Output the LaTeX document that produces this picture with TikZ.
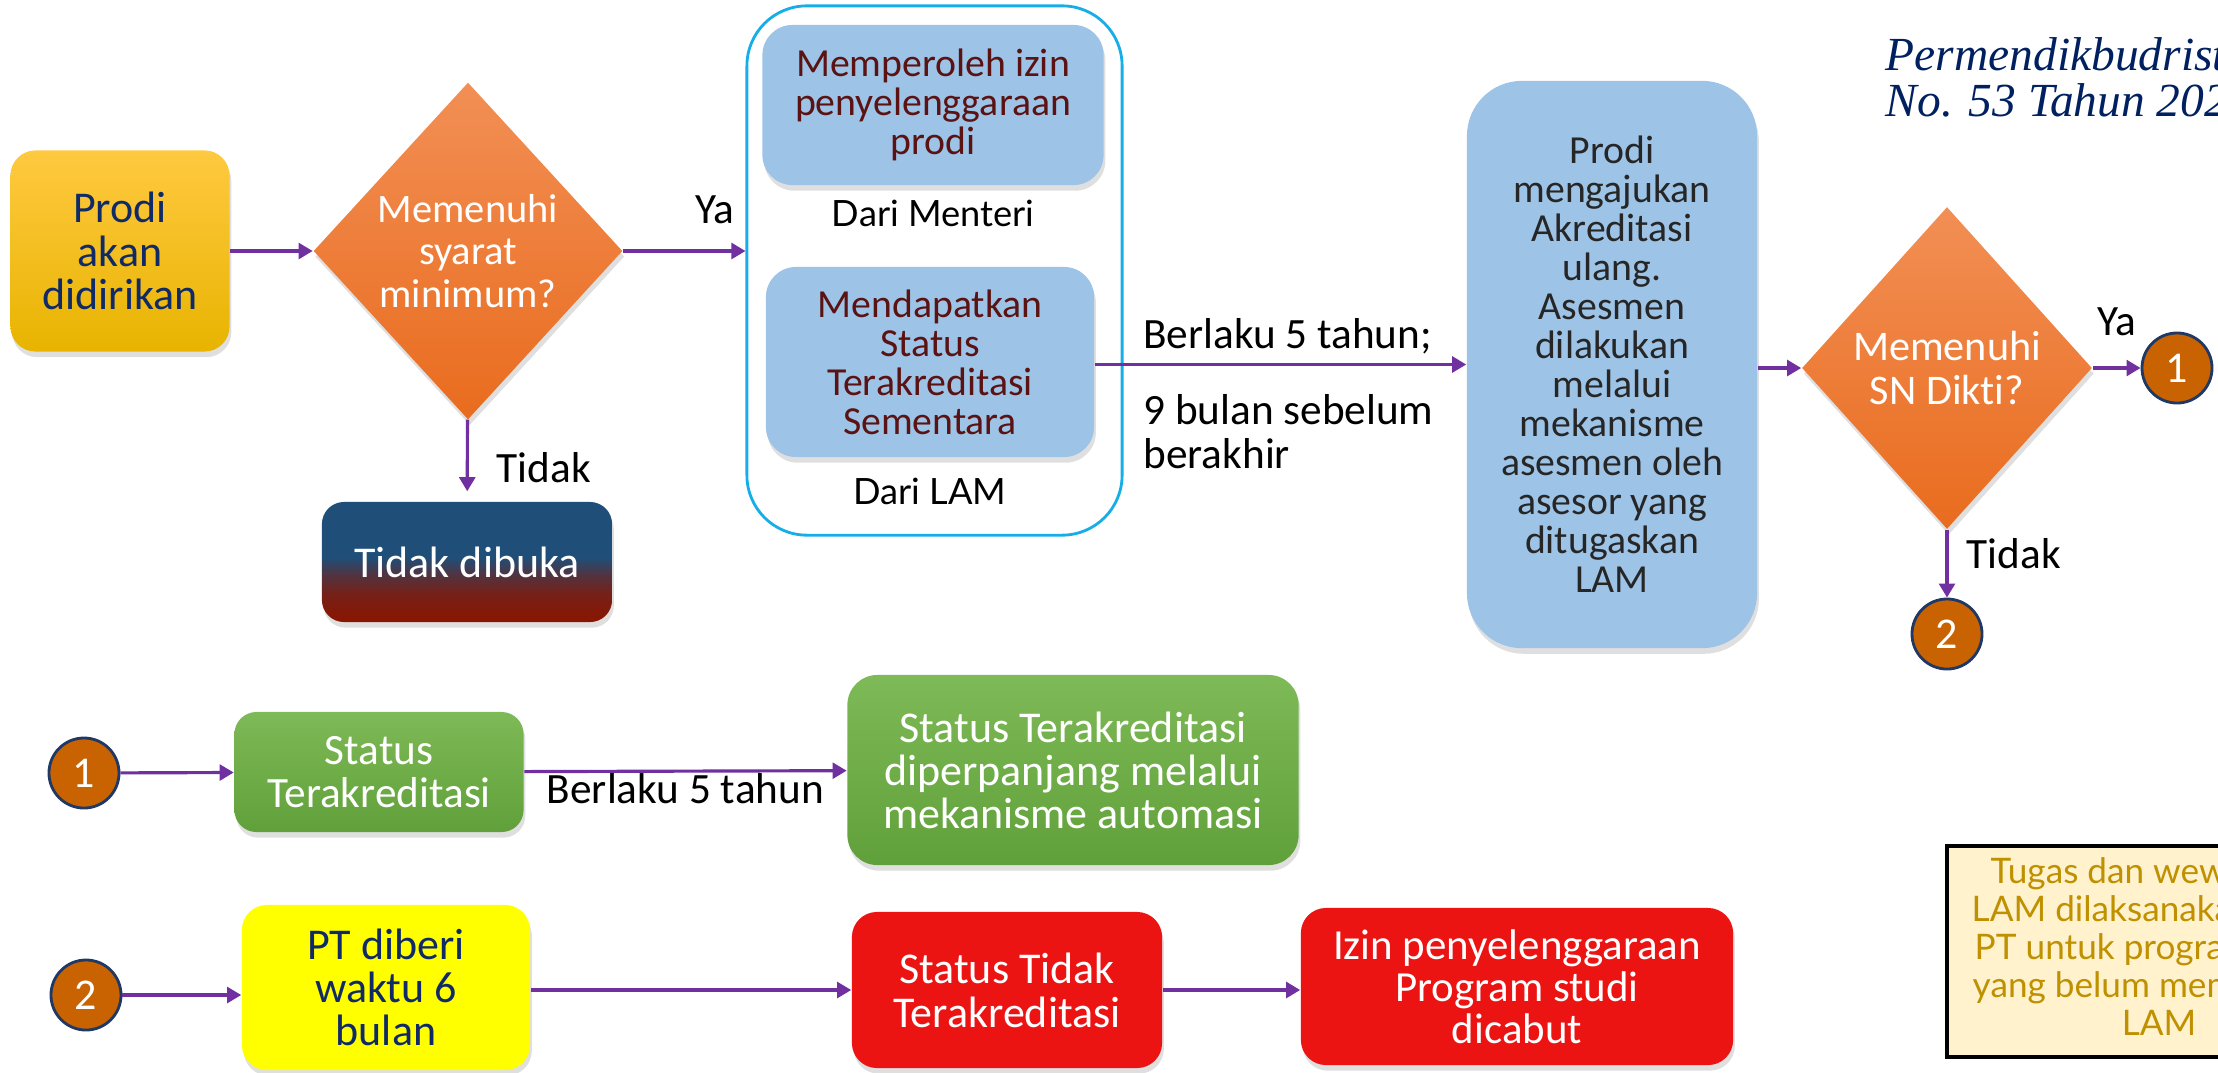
\documentclass[tikz,border=0pt]{standalone}
\usepackage{fontspec}
\setmainfont{Carlito}[RawFeature={-liga;-clig;-dlig;-calt}]
\newfontfamily\latofont{Lato}
\newfontfamily\titlefont{Liberation Serif}
\usepackage{xcolor}
\usetikzlibrary{positioning,shapes.geometric,arrows.meta,shadows}
\definecolor{purp}{HTML}{7030A0}
\definecolor{gold1}{HTML}{FFC940}
\definecolor{gold2}{HTML}{E8B400}
\definecolor{inknavy}{HTML}{0F2A66}
\definecolor{orange1}{HTML}{F28F55}
\definecolor{orange2}{HTML}{E96C1E}
\definecolor{paleblue}{HTML}{9DC3E6}
\definecolor{maroontext}{HTML}{5A1212}
\definecolor{boxcyan}{HTML}{17AEE8}
\definecolor{brownc}{HTML}{C96200}
\definecolor{ringnavy}{HTML}{1F3864}
\definecolor{green1}{HTML}{7EBA57}
\definecolor{green2}{HTML}{60A03A}
\definecolor{yellowc}{HTML}{FFFF00}
\definecolor{redc}{HTML}{EC1313}
\definecolor{notefill}{HTML}{FFF2CC}
\definecolor{notetext}{HTML}{BF9000}
\definecolor{titleblue}{HTML}{002060}
\definecolor{tdnavy}{HTML}{1F4E79}
\definecolor{tdred}{HTML}{8B1500}
\pgfdeclareverticalshading{tidakshade}{100bp}{color(0bp)=(tdred); color(25bp)=(tdred); color(37bp)=(tdred!80!tdnavy); color(45bp)=(tdnavy!55!tdred); color(52bp)=(tdnavy); color(100bp)=(tdnavy)}

\begin{document}
\begin{tikzpicture}[x=0.01cm, y=-0.01cm, >={Triangle[length=4pt,width=4.5pt]},
        box/.style = {rounded corners=0.22cm, align=center, inner sep=0pt, drop shadow={opacity=0.25, shadow xshift=0.5pt, shadow yshift=-1.6pt}},
        dec/.style = {diamond, align=center, inner sep=0pt, top color=orange1, bottom color=orange2, text=white, drop shadow={opacity=0.25, shadow xshift=0.5pt, shadow yshift=-1.6pt}},
        con/.style = {circle, draw=ringnavy, line width=0.8pt, fill=brownc, text=white, minimum size=0.7cm, inner sep=0pt, font=\fontsize{12.5}{12.5}\selectfont},
        lbl/.style = {inner sep=0pt, font=\fontsize{12.3}{12.5}\selectfont},
        arr/.style = {->, draw=purp, line width=0.9pt}]
            \useasboundingbox (0,0) rectangle (2218,1072);
            \node[box, top color=gold1, bottom color=gold2, text=inknavy, minimum width=2.19cm, minimum height=2.01cm, rounded corners=0.25cm, font=\fontsize{12.5}{12.3}\selectfont] (1) at (120,251) {Prodi\\akan\\didirikan};
            \node[dec, minimum width=3.09cm, minimum height=3.37cm, font=\fontsize{11.5}{12}\selectfont] (2) at (468,251) {Memenuhi\\syarat\\minimum?};
            \node[box, shade, shading=tidakshade, text=white, minimum width=2.90cm, minimum height=1.20cm, font=\fontsize{12.5}{12.5}\selectfont] (3) at (467,562) {Tidak dibuka};
            \node[draw=boxcyan, line width=0.8pt, rounded corners=0.6cm, minimum width=3.75cm, minimum height=5.29cm] (4) at (934.5,270.5) {};
            \node[box, fill=paleblue, text=maroontext, minimum width=3.41cm, minimum height=1.60cm, rounded corners=0.3cm, font=\fontsize{11.3}{11.1}\selectfont] (5) at (933,105) {Memperoleh izin\\penyelenggaraan\\prodi};
            \node[lbl, font=\latofont\fontsize{10.3}{12}\selectfont, below=0.14cm of 5] (6) {Dari Menteri};
            \node[box, fill=paleblue, text=maroontext, minimum width=3.28cm, minimum height=1.90cm, rounded corners=0.3cm, font=\fontsize{11.3}{11.1}\selectfont] (7) at (930,362) {Mendapatkan\\Status\\Terakreditasi\\Sementara};
            \node[lbl, font=\latofont\fontsize{10.3}{12}\selectfont, below=0.2cm of 7] (8) {Dari LAM};
            \node[box, fill=paleblue, text=black!85, minimum width=2.90cm, minimum height=5.67cm, rounded corners=0.55cm, font=\fontsize{11.3}{11.1}\selectfont] (9) at (1612,364.5) {Prodi\\mengajukan\\Akreditasi\\ulang.\\Asesmen\\dilakukan\\melalui\\mekanisme\\asesmen oleh\\asesor yang\\ditugaskan\\LAM};
            \node[dec, minimum width=2.90cm, minimum height=3.22cm, font=\fontsize{12}{12.5}\selectfont] (10) at (1947,368) {Memenuhi\\SN Dikti?};
            \node[con] (11) at (2177,368) {1};
            \node[con] (12) at (1947,634) {2};
            \node[con] (13) at (84,773) {1};
            \node[box, top color=green1, bottom color=green2, text=white, minimum width=2.89cm, minimum height=1.20cm, font=\fontsize{12.3}{12.2}\selectfont] (14) at (379,772) {Status\\Terakreditasi};
            \node[box, top color=green1, bottom color=green2, text=white, minimum width=4.51cm, minimum height=1.90cm, rounded corners=0.3cm, font=\fontsize{12.5}{12.2}\selectfont] (15) at (1073,770) {Status Terakreditasi\\diperpanjang melalui\\mekanisme automasi};
            \node[con] (16) at (86,995) {2};
            \node[box, fill=yellowc, text=inknavy, minimum width=2.88cm, minimum height=1.65cm, rounded corners=0.25cm, font=\fontsize{12.5}{12.2}\selectfont] (17) at (386,987.5) {PT diberi\\waktu 6\\bulan};
            \node[box, fill=redc, text=white, minimum width=3.10cm, minimum height=1.56cm, rounded corners=0.25cm, font=\fontsize{12.5}{12.5}\selectfont] (18) at (1007,990) {Status Tidak\\Terakreditasi};
            \node[box, fill=redc, text=white, minimum width=4.32cm, minimum height=1.57cm, rounded corners=0.25cm, font=\fontsize{12.2}{12}\selectfont] (19) at (1517,986.5) {Izin penyelenggaraan\\Program studi\\dicabut};
            \node[draw, line width=1pt, fill=notefill, minimum width=4.22cm, minimum height=2.11cm] (20) at (2158,951.5) {};
            \node[anchor=north west, inner sep=0pt, align=left, text=notetext, font=\latofont\fontsize{10}{10.8}\selectfont] (21) at (1971,857) {\hspace*{0.19cm}Tugas dan wew\\LAM dilaksanaka\\\hspace*{0.03cm}PT untuk progra\\\hspace*{0.01cm}yang belum mem\\\hspace*{1.5cm}LAM};
            \node[anchor=north west, inner sep=0pt, align=left, text=titleblue, font=\titlefont\itshape\fontsize{13.5}{13}\selectfont] (22) at (1885,37) {Permendikbudristek\\No. 53 Tahun 2023};

            \draw[arr] (1) -- (2);
            \draw[arr] (2) -- (2 -| 4.west) node[pos=0.75, above=0.26cm, lbl] {Ya};
            \draw[arr, shorten >=0.1cm] (2) -- (3) node[pos=0.59, right=0.28cm, lbl] {Tidak};
            \draw[arr] (9.west -| 7.east) -- (9.west) node[at start, above right=0.09cm and 0.47cm, lbl] {Berlaku 5 tahun;} node[at start, below right=0.28cm and 0.47cm, lbl, align=left] {9 bulan sebelum\\berakhir};
            \draw[arr] (10.west -| 9.east) -- (10);
            \draw[arr] (10) -- (11) node[midway, above=0.31cm, lbl] {Ya};
            \draw[arr] (10) -- (12) node[pos=0.35, right=0.18cm, lbl] {Tidak};
            \draw[arr] (13) -- (14);
            \draw[arr] (14) -- (15) node[at start, below right=0cm and 0.21cm, lbl] {Berlaku 5 tahun};
            \draw[arr] (16) -- (16 -| 17.west);
            \draw[arr] (18.west -| 17.east) -- (18);
            \draw[arr] (18) -- (18 -| 19.west);
        \end{tikzpicture}
\end{document}
